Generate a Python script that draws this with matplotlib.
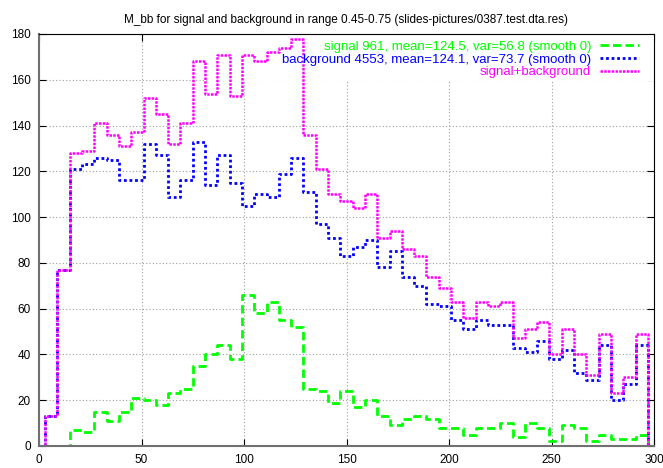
import matplotlib.pyplot as plt
from matplotlib.patches import Rectangle

plt.rcParams['font.family'] = ['Liberation Sans', 'DejaVu Sans']

# bin centres of M_bb (histeps)
x = list(range(0, 301, 6))

signal = [0, 0, 0, 7, 6, 15, 11, 15, 21, 20, 18, 23, 25,
          35, 40, 44, 38, 66, 58, 63, 55, 52, 25,
          24, 19, 24, 17, 20, 13, 9, 12, 13, 12,
          8, 8, 5, 8, 8, 10, 4, 10, 8, 2,
          9, 8, 2, 5, 3, 3, 5, 0]

background = [0, 13, 77, 121, 123, 126, 125, 116, 116, 132, 127, 109, 116,
              133, 114, 127, 115, 105, 110, 109, 119, 126, 111,
              97, 91, 83, 87, 90, 78, 85, 74, 70, 62,
              61, 55, 51, 55, 53, 53, 43, 41, 46, 38,
              42, 32, 29, 44, 20, 27, 44, 0]

total = [0, 13, 77, 128, 129, 141, 136, 131, 137, 152, 145, 132, 141,
         168, 154, 171, 153, 171, 168, 172, 174, 178, 136,
         121, 110, 107, 104, 110, 91, 94, 86, 83, 74,
         69, 63, 56, 63, 61, 63, 47, 51, 54, 40,
         51, 40, 31, 49, 23, 30, 49, 0]

labels = ['signal 961, mean=124.5, var=56.8 (smooth 0)',
          'background 4553, mean=124.1, var=73.7 (smooth 0)',
          'signal+background']

fig = plt.figure(figsize=(6.63, 4.68), dpi=100)
ax = fig.add_axes([39 / 663, 22 / 468, 615 / 663, 412 / 468])

ax.step(x, signal, where='mid', color='#00ff00', lw=2,
        linestyle=(0, (3, 1.5)), label=labels[0])
ax.step(x, background, where='mid', color='#0000ff', lw=2,
        linestyle=(0, (1, 1)), label=labels[1])
ax.step(x, total, where='mid', color='#ff00ff', lw=1.8,
        linestyle=(0, (1, 0.5)), label=labels[2])

ax.set_xlim(0, 300)
ax.set_ylim(0, 180)
ax.set_xticks(range(0, 301, 50))
ax.set_yticks(range(0, 181, 20))
ax.tick_params(direction='in', top=True, right=True, length=5,
               labelsize=8.5, pad=6)
ax.grid(True, color='#a0a0a0', linestyle=(0, (1, 2)), lw=0.8)
ax.set_axisbelow(True)
for s in ['left', 'bottom']:
    ax.spines[s].set_color('#707070')
    ax.spines[s].set_linewidth(1.5)

# key area hides the grid, like gnuplot does
ax.add_patch(Rectangle((0.275, 0.885), 0.725, 0.115, transform=ax.transAxes,
                       facecolor='white', edgecolor='none', zorder=1))

ax.set_title('M_bb for signal and background in range 0.45-0.75 '
             '(slides-pictures/0387.test.dta.res)', fontsize=8.5, pad=8)

ax.legend(loc='upper right', bbox_to_anchor=(0.992, 1.01),
          markerfirst=False, frameon=False,
          fontsize=9.5, labelcolor='linecolor', handlelength=2.9,
          handletextpad=0.7, labelspacing=0.05, borderaxespad=0.5,
          borderpad=0.3)

fig.savefig('out.png', dpi=100)
